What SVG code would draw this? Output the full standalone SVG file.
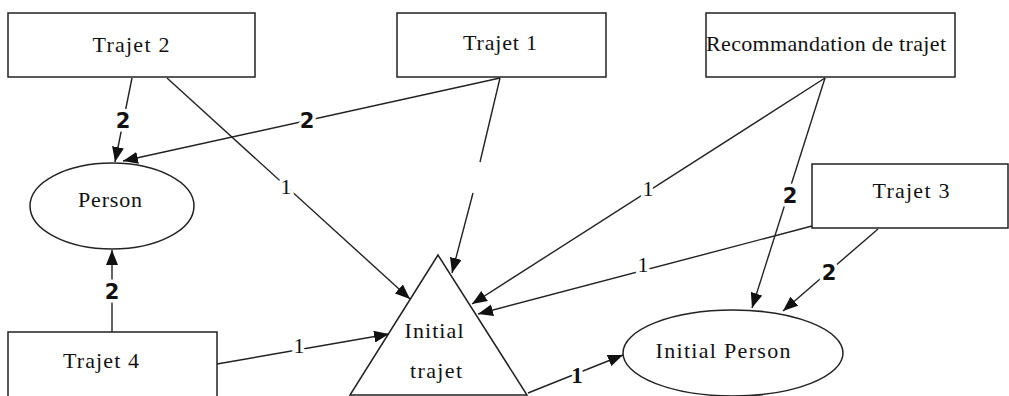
<svg xmlns="http://www.w3.org/2000/svg" width="1009" height="396" viewBox="0 0 1009 396">
<style>
.box{fill:#fff;stroke:#222;stroke-width:1.5}
.node-t{font-family:"Liberation Serif","Times New Roman",serif;font-size:22px;fill:#111;text-anchor:middle}
.edge{stroke:#222;stroke-width:1.4;fill:none}
.lb{font-family:"DejaVu Sans",sans-serif;font-weight:bold;font-size:21px;fill:#111;text-anchor:middle;stroke:#fff;stroke-width:7;paint-order:stroke;stroke-linejoin:round}
.ln{font-family:"Liberation Serif",serif;font-size:22px;fill:#111;text-anchor:middle;stroke:#fff;stroke-width:7;paint-order:stroke;stroke-linejoin:round}
.lnb{font-family:"Liberation Serif",serif;font-weight:bold;font-size:23px;fill:#111;text-anchor:middle;stroke:#fff;stroke-width:7;paint-order:stroke;stroke-linejoin:round}
</style>
<defs>
<marker id="arr" markerUnits="userSpaceOnUse" markerWidth="15" markerHeight="12" refX="15" refY="6" orient="auto">
<path d="M0,0 L15,6 L0,12 z" fill="#111"/>
</marker>
</defs>
<rect width="1009" height="396" fill="#fff"/>
<g id="trajet2"><rect class="box" x="8" y="13" width="247" height="64"/><text class="node-t" x="131" y="52" textLength="77" lengthAdjust="spacing">Trajet 2</text></g>
<g id="trajet1"><rect class="box" x="397" y="13" width="209" height="64"/><text class="node-t" x="500" y="50" textLength="74" lengthAdjust="spacing">Trajet 1</text></g>
<g id="recommandation"><rect class="box" x="706" y="13" width="249" height="64"/><text class="node-t" x="826" y="51" textLength="240" lengthAdjust="spacing">Recommandation de trajet</text></g>
<g id="trajet3"><rect class="box" x="812" y="164" width="196" height="64"/><text class="node-t" x="911" y="198" textLength="77" lengthAdjust="spacing">Trajet 3</text></g>
<g id="trajet4"><rect class="box" x="8" y="332" width="209" height="80"/><text class="node-t" x="101" y="368" textLength="76" lengthAdjust="spacing">Trajet 4</text></g>
<g id="person"><ellipse class="box" cx="112" cy="206" rx="82" ry="43" stroke-width="1.2"/><text class="node-t" x="110" y="207" textLength="64" lengthAdjust="spacing">Person</text></g>
<g id="initial-trajet"><polygon class="box" points="438,255 350,395 527,395"/><text class="node-t" x="434" y="338" textLength="59" lengthAdjust="spacing">Initial</text><text class="node-t" x="436" y="378" textLength="52" lengthAdjust="spacing">trajet</text></g>
<g id="initial-person"><ellipse class="box" cx="733" cy="353" rx="110" ry="43" stroke-width="1.2"/><text class="node-t" x="723" y="358" textLength="135" lengthAdjust="spacing">Initial Person</text></g>
<g id="connectors">
<path class="edge" d="M132,78 L115,162" marker-end="url(#arr)"/>
<path class="edge" d="M500,78 L123,161" marker-end="url(#arr)"/>
<path class="edge" d="M167,78 L410,299" marker-end="url(#arr)"/>
<path class="edge" d="M500,78 L480,162"/>
<path class="edge" d="M473,193 L452,273" marker-end="url(#arr)"/>
<path class="edge" d="M825,78 L472,304" marker-end="url(#arr)"/>
<path class="edge" d="M825,78 L752,308" marker-end="url(#arr)"/>
<path class="edge" d="M812,226 L478,314" marker-end="url(#arr)"/>
<path class="edge" d="M878,229 L783,311" marker-end="url(#arr)"/>
<path class="edge" d="M112,332 L112,250" marker-end="url(#arr)"/>
<path class="edge" d="M217,364 L389,334" marker-end="url(#arr)"/>
<path class="edge" d="M528,393 L623,355" marker-end="url(#arr)"/>
<text class="lb" x="123" y="128">2</text>
<text class="lb" x="307" y="128">2</text>
<text class="ln" x="286" y="194">1</text>
<text class="ln" x="648" y="196">1</text>
<text class="lb" x="790" y="203">2</text>
<text class="ln" x="643" y="272">1</text>
<text class="lb" x="829" y="280">2</text>
<text class="lb" x="112" y="299">2</text>
<text class="ln" x="299" y="353">1</text>
<text class="lnb" x="577" y="383">1</text>
</g>
</svg>
